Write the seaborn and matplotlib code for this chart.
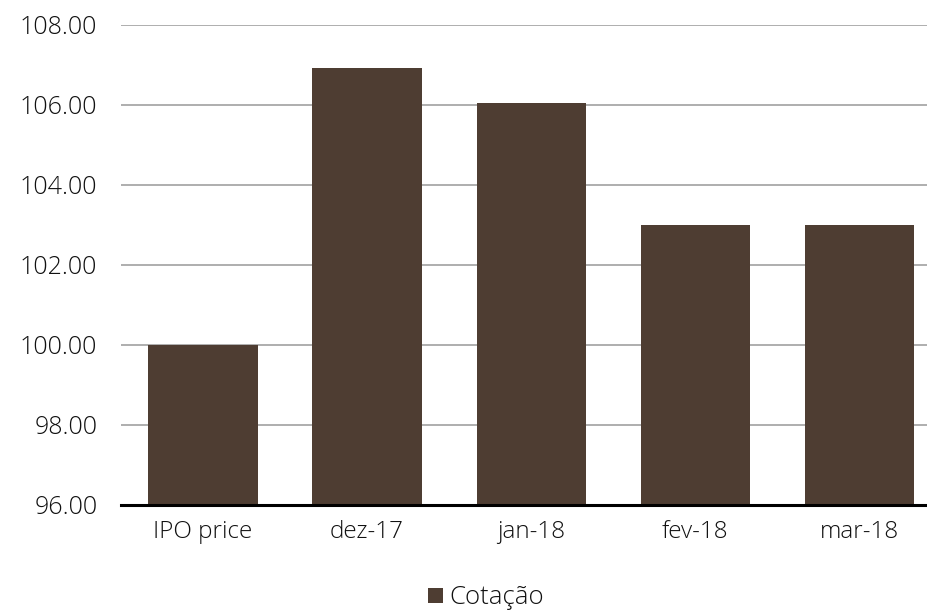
import matplotlib
matplotlib.use("Agg")
import matplotlib.pyplot as plt
import seaborn as sns
import pandas as pd

categories = ["IPO price", "dez-17", "jan-18", "fev-18", "mar-18"]
values = [100.00, 106.93, 106.05, 103.00, 103.00]
series_name = "Cotação"
yticks = [96, 98, 100, 102, 104, 106, 108]

sns.set_theme(style="white")
plt.rcParams['font.family'] = ['Open Sans', 'DejaVu Sans']
plt.rcParams['font.weight'] = 'light'

df = pd.DataFrame({"cat": categories, "val": values, "series": series_name})

fig = plt.figure(figsize=(9.28, 6.13), dpi=100)
ax = fig.add_axes([121/928, 1-505/613, 1-121/928, (505-25)/613])

color = "#4E3D32"
sns.barplot(data=df, x="cat", y="val", hue="series", palette=[color],
            width=0.665, ax=ax, saturation=1, legend=True, linewidth=0)

ax.set_ylim(96, 108)
ax.set_xlim(-0.5, 4.42)
ax.set_yticks(yticks)
ax.set_yticklabels([f"{t:.2f}" for t in yticks])
ax.set_xlabel("")
ax.set_ylabel("")
ax.yaxis.grid(True, color="#999999", linewidth=1.1)
ax.set_axisbelow(True)
for s in ["top", "right", "left"]:
    ax.spines[s].set_visible(False)
ax.spines["bottom"].set_color("black")
ax.spines["bottom"].set_linewidth(2.2)
ax.spines["bottom"].set_zorder(5)
ax.tick_params(axis="y", length=0, pad=17, labelsize=18, labelcolor="#111111")
ax.tick_params(axis="x", length=0, pad=11, labelsize=17.5, labelcolor="#111111")

leg = ax.legend(loc="center", bbox_to_anchor=(486/928, 1-598/613),
                bbox_transform=fig.transFigure, frameon=False, fontsize=18.5,
                handlelength=0.55, handleheight=0.55, handletextpad=0.25)
for t in leg.get_texts():
    t.set_color("#111111")

fig.savefig("out.png", dpi=100)
